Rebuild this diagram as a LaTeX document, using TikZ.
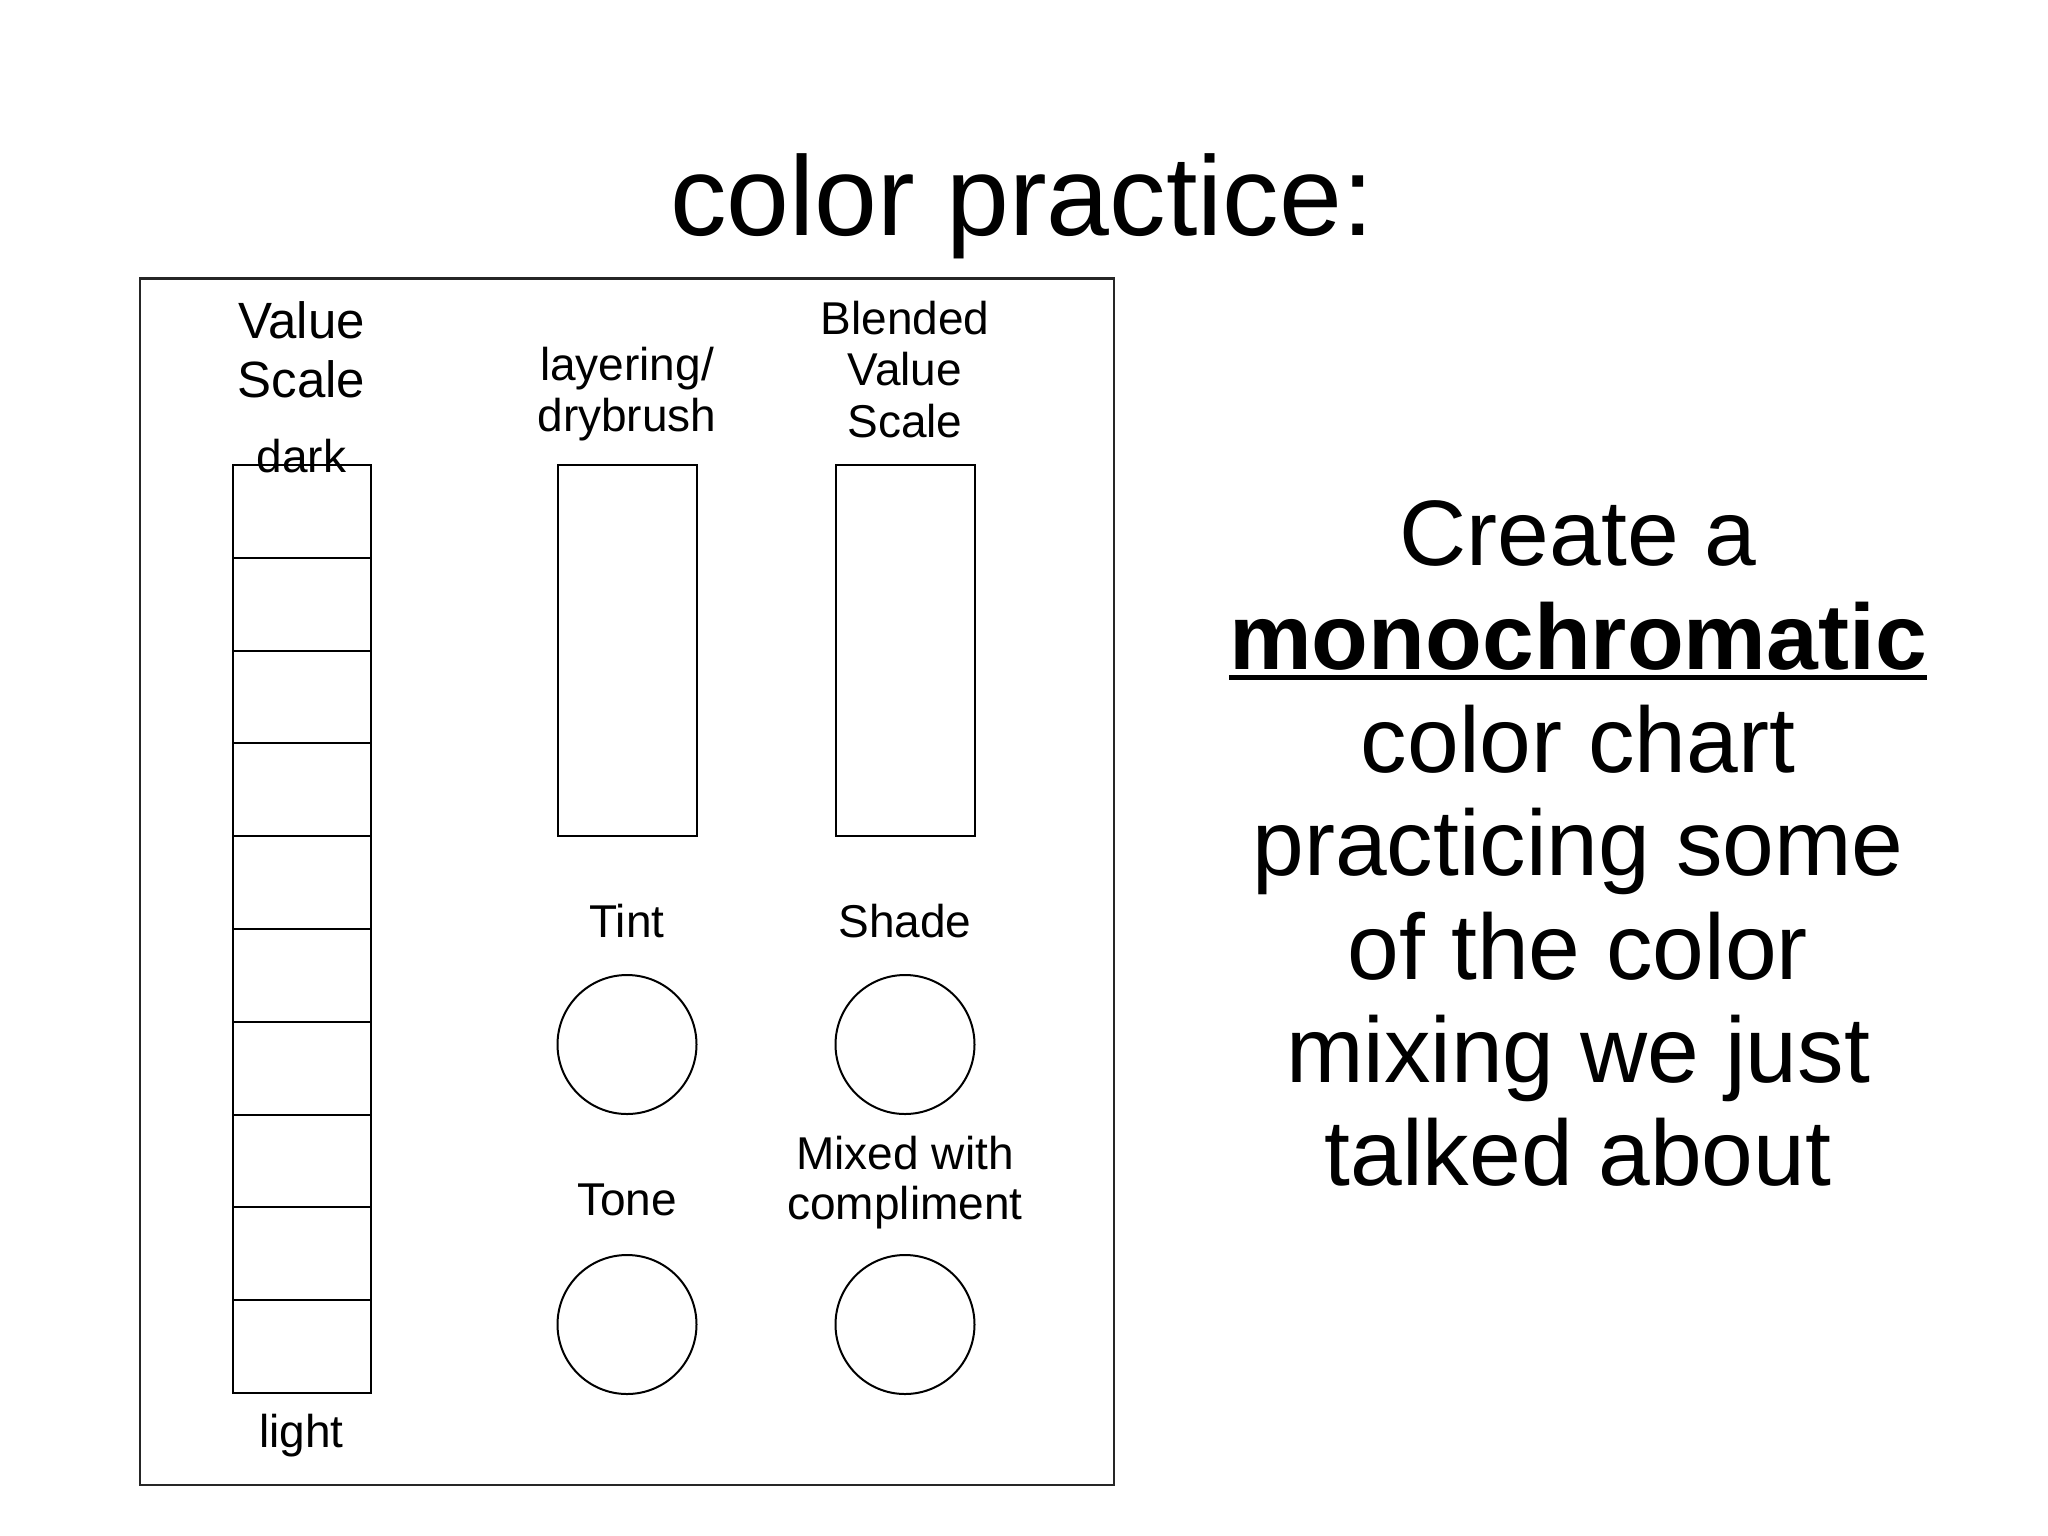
\documentclass[tikz,border=0pt]{standalone}
\usepackage{fontspec}
\setmainfont{Liberation Sans}
\begin{document}
\begin{tikzpicture}[x=1pt,y=-1pt,
  shape line/.style={draw=black,line width=2pt},
  frame line/.style={draw=black!85,line width=2.2pt},
  lbl/.style={inner sep=0pt,anchor=base,font=\fontsize{46}{54}\selectfont},
  biglbl/.style={inner sep=0pt,anchor=base,font=\fontsize{51}{60}\selectfont},
  bodytext/.style={inner sep=0pt,anchor=base,font=\fontsize{93}{104}\selectfont},
  titletext/.style={inner sep=0pt,anchor=base,font=\fontsize{113}{130}\selectfont}]
\useasboundingbox[fill=white] (0,0) rectangle (2048,1535);

% title
\node[titletext] (title) at (1022,235) {color practice:};

% outer frame
\draw[frame line] (139.7,278.5) rectangle (1114,1485);

% value scale column
\draw[shape line] (232.5,465) rectangle (371,1393);
\foreach \k in {1,...,9}{
  \draw[shape line] (232.5,465+92.8*\k) -- (371,465+92.8*\k);
}
\node[biglbl] (vs1) at (301.5,338) {Value};
\node[biglbl] (vs2) at (301.5,397) {Scale};
\node[lbl] (dark) at (301.5,472.5) {dark};
\node[lbl] (light) at (301.5,1447) {light};

% layering / blended rectangles
\draw[shape line] (557.5,465) rectangle (696.5,835.5);
\draw[shape line] (835.5,465) rectangle (975,835.5);
\node[lbl] (lay1) at (627,380) {layering/};
\node[lbl] (lay2) at (627,431) {drybrush};
\node[lbl] (bl1) at (905,334) {Blended};
\node[lbl] (bl2) at (905,385.5) {Value};
\node[lbl] (bl3) at (905,437) {Scale};

% circles
\draw[shape line] (627,1044.5) circle (69.5);
\draw[shape line] (905,1044.5) circle (69.5);
\draw[shape line] (627,1324.5) circle (69.5);
\draw[shape line] (905,1324.5) circle (69.5);
\node[lbl] (tint) at (627,937.5) {Tint};
\node[lbl] (shade) at (905,937.5) {Shade};
\node[lbl] (tone) at (627,1215.5) {Tone};
\node[lbl] (mix1) at (905,1169) {Mixed with};
\node[lbl] (mix2) at (905,1219.5) {compliment};

% right text
\node[bodytext] (r1) at (1578,565) {Create a};
\node[bodytext] (r2) at (1578,669) {\bfseries monochromatic};
\draw[line width=4.5pt] ([yshift=-8.5pt]r2.base west) -- ([yshift=-8.5pt]r2.base east);
\node[bodytext] (r3) at (1578,772) {color chart};
\node[bodytext] (r4) at (1578,875.5) {practicing some};
\node[bodytext] (r5) at (1578,979) {of the color};
\node[bodytext] (r6) at (1578,1082) {mixing we just};
\node[bodytext] (r7) at (1578,1185.5) {talked about};
\end{tikzpicture}
\end{document}
